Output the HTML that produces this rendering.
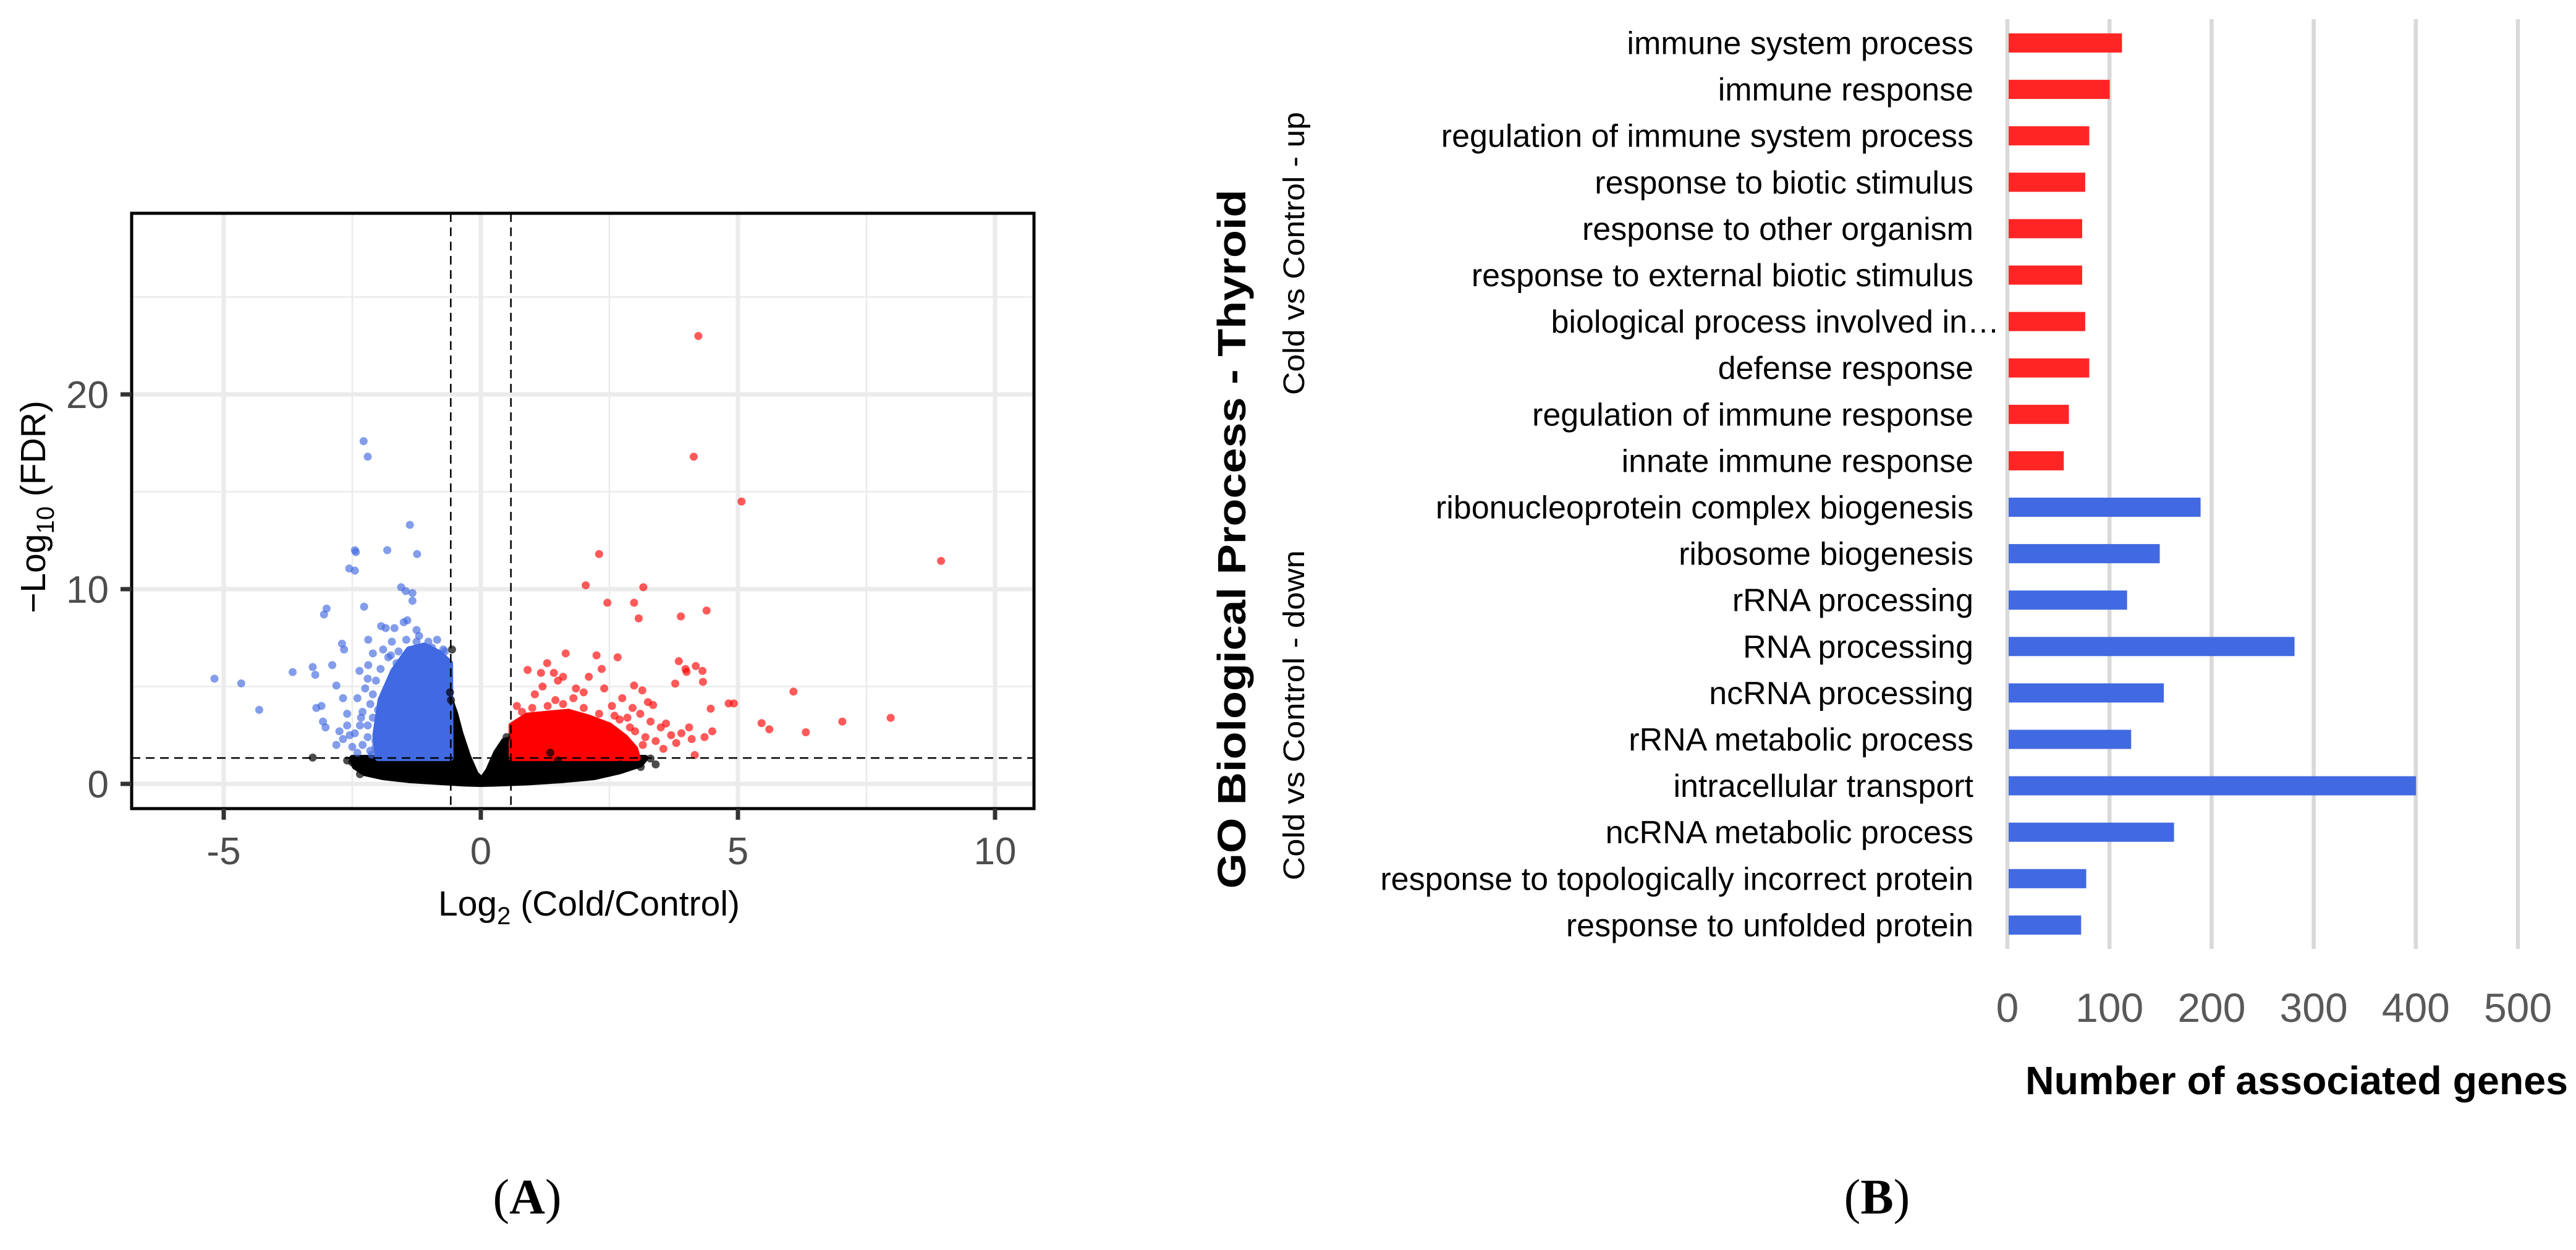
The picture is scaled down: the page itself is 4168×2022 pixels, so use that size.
<!DOCTYPE html>
<html><head><meta charset="utf-8">
<style>
html,body{margin:0;padding:0;background:#fff;}
svg{display:block;}
</style></head>
<body>
<svg id="fig" width="4168" height="2022" viewBox="0 0 4168 2022" xmlns="http://www.w3.org/2000/svg">
  <rect x="0" y="0" width="4168" height="2022" fill="#fff"/>
  <g id="panelA"></g>
  <g id="panelB"></g>
  <text x="853" y="1963" text-anchor="middle" font-family="'Liberation Serif', serif" font-size="80">(<tspan font-weight="bold">A</tspan>)</text>
  <text x="3037" y="1963" text-anchor="middle" font-family="'Liberation Serif', serif" font-size="80">(<tspan font-weight="bold">B</tspan>)</text>
</svg>
<script>
// ---------- Panel A data ----------
const aXTicks = [-5, 0, 5, 10];
const aXMinor = [-2.5, 2.5, 7.5];
const aYTicks = [0, 10, 20];
const aYMinor = [5, 15, 25];
const fcThreshold = 0.585;
const fdrThreshold = 1.33;
const bluePoints = [
 [-5.18,5.4],[-4.66,5.16],[-4.31,3.8],[-3.66,5.74],[-3.27,6.0],[-3.22,5.6],[-3.2,3.9],[-3.1,4.0],
 [-3.05,8.7],[-3.0,9.0],[-3.07,3.2],[-3.02,2.9],[-2.89,6.1],[-2.7,7.2],[-2.66,6.9],[-2.56,11.06],
 [-2.45,10.95],[-2.45,12.0],[-2.43,11.9],[-2.28,17.6],[-2.2,16.8],[-2.27,9.1],[-1.82,12.0],[-1.38,13.3],
 [-1.24,11.8],[-1.55,10.1],[-1.46,9.9],[-1.33,9.8],[-1.33,9.4],[-2.19,7.4],[-1.94,8.1],[-1.85,8.0],
 [-1.68,8.0],[-1.5,8.3],[-1.43,8.4],[-1.25,7.9],[-2.36,5.8],[-2.19,6.1],[-2.04,5.3],[-2.81,5.05],
 [-2.68,4.4],[-2.6,3.6],[-2.55,2.5],[-2.68,2.3],[-2.81,2.0],[-2.4,4.4],[-2.33,3.4],[-2.45,2.6],
 [-2.2,3.0],[-2.5,1.9],[-1.8,6.5],[-1.64,6.2],[-1.73,7.3],[-1.45,7.4],[-1.25,7.3],[-1.02,7.3],
 [-0.85,7.4],[-0.66,6.2],[-0.73,6.9],[-2.3,2.0],[-2.15,1.7],[-2.05,2.2],[-2.25,4.9],[-2.1,4.6],
 [-1.95,5.9],[-1.6,6.8],[-2.35,3.0],[-2.0,3.8],[-2.12,1.5],[-1.9,1.6],[-2.6,3.0],[-2.75,2.7],
 [-2.1,6.7],[-1.9,6.9],[-1.75,6.6],[-2.2,5.4],[-2.15,4.1],[-2.3,3.7],[-2.2,2.4],[-2.05,1.9],
 [-1.2,7.6],[-0.95,7.0],[-0.7,6.8],[-2.4,1.6],[-2.0,2.8],[-2.1,3.4]
];
const redPoints = [
 [4.23,23.0],[4.14,16.8],[5.07,14.5],[8.95,11.45],[2.3,11.8],[2.04,10.2],[3.16,10.1],[2.46,9.3],
 [2.98,9.3],[3.07,8.5],[3.89,8.6],[4.39,8.9],[1.65,6.7],[2.25,6.6],[2.66,6.5],[3.85,6.3],[3.98,5.9],
 [4.18,6.05],[4.31,5.8],[4.0,5.75],[3.78,5.15],[4.32,5.24],[2.98,5.05],[3.14,4.8],[6.08,4.74],
 [4.82,4.13],[4.92,4.13],[4.47,3.86],[5.46,3.12],[5.61,2.8],[6.32,2.65],[7.03,3.2],[7.97,3.39],
 [3.6,3.1],[3.9,2.6],[4.05,2.9],[4.1,2.3],[4.5,2.7],[4.35,2.4],[4.16,1.48],[3.7,2.5],[3.8,2.1],
 [0.91,5.85],[1.17,5.7],[1.29,6.2],[1.42,5.7],[1.5,5.3],[1.6,5.5],[1.2,5.0],[1.45,4.3],[1.85,4.9],
 [2.1,5.5],[2.35,5.9],[2.4,4.9],[2.0,4.7],[1.8,4.4],[3.25,4.2],[3.35,4.05],[2.75,4.4],[2.95,3.9],
 [2.55,4.0],[2.3,3.6],[2.85,3.4],[3.1,3.6],[3.3,3.2],[3.5,2.9],[2.7,3.3],[0.7,4.0],[1.05,4.6],
 [3.0,2.7],[3.2,2.4],[3.4,2.2],[3.55,1.8],[2.9,1.6],[1.0,3.9],[1.3,4.0],[1.6,4.1],[2.0,3.9],
 [2.6,3.5],[2.9,2.9],[3.15,2.0],[0.8,3.7]
];
const blackPoints = [
 [-3.27,1.35],[3.11,0.87],[-0.56,6.9],[-0.6,4.7],[-0.58,4.3],[-2.3,1.0],[-2.1,0.7],[-2.5,1.1],
 [1.35,1.6],[1.5,1.2],[2.7,1.0],[3.3,1.3],[3.4,1.0],[-2.6,1.2],[-2.35,0.5],[0.5,2.4]
];
const blueCore = [[-2.0,1.33],[-2.05,2.5],[-1.95,4.3],[-1.7,5.8],[-1.4,6.9],[-1.1,7.1],[-0.8,6.7],[-0.6,6.2],[-0.59,1.33]];
const redCore = [[0.6,1.33],[0.6,3.0],[0.9,3.5],[1.3,3.6],[1.7,3.7],[2.1,3.4],[2.5,3.0],[2.8,2.4],[3.0,1.8],[3.05,1.33]];
const blackCore = [[-2.5,1.33],[-2.45,0.9],[-2.25,0.55],[-1.9,0.35],[-1.4,0.2],[-0.8,0.1],[-0.3,0.02],[0,0],
 [0.3,0.02],[0.9,0.08],[1.6,0.2],[2.2,0.35],[2.7,0.65],[3.1,1.0],[3.2,1.33],[0.6,1.33],[0.6,2.3],[0.45,2.2],
 [0.3,1.6],[0.15,0.7],[0.02,0.2],[-0.1,0.5],[-0.25,1.4],[-0.4,2.6],[-0.5,3.6],[-0.58,4.2],[-0.58,1.33]];

// ---------- Panel B data ----------
const goTerms = ["immune system process","immune response","regulation of immune system process","response to biotic stimulus",
 "response to other organism","response to external biotic stimulus","biological process involved in\u2026","defense response",
 "regulation of immune response","innate immune response","ribonucleoprotein complex biogenesis","ribosome biogenesis",
 "rRNA processing","RNA processing","ncRNA processing","rRNA metabolic process","intracellular transport",
 "ncRNA metabolic process","response to topologically incorrect protein","response to unfolded protein"];
const geneCounts = [111,99,79,75,72,72,75,79,59,54,188,148,116,280,152,120,399,162,76,71];
const direction = ["up","up","up","up","up","up","up","up","up","up","down","down","down","down","down","down","down","down","down","down"];
const bTicks = [0,100,200,300,400,500];

const NS = "http://www.w3.org/2000/svg";
function mk(parent, tag, attrs, text){
  const e = document.createElementNS(NS, tag);
  for (const k in attrs) e.setAttribute(k, attrs[k]);
  if (text !== undefined) e.textContent = text;
  parent.appendChild(e);
  return e;
}

// ---------- Panel A ----------
(function(){
  const g = document.getElementById('panelA');
  const L=213, R=1673, T=345, B=1308;
  const sx = v => 778 + v*83.2;
  const sy = v => 1268 - v*31.5;
  const SANS = "'Liberation Sans', sans-serif";
  const PR = 6.5;
  let e;
  aXMinor.forEach(v=>{ e=mk(g,'line',{x1:sx(v),x2:sx(v),y1:T,y2:B,stroke:'#ebebeb','stroke-width':2.5});
      });
  aYMinor.forEach(v=>{ e=mk(g,'line',{x1:L,x2:R,y1:sy(v),y2:sy(v),stroke:'#ebebeb','stroke-width':2.5});
      });
  aXTicks.forEach(v=>{ e=mk(g,'line',{x1:sx(v),x2:sx(v),y1:T,y2:B,stroke:'#ebebeb','stroke-width':7});
      });
  aYTicks.forEach(v=>{ e=mk(g,'line',{x1:L,x2:R,y1:sy(v),y2:sy(v),stroke:'#ebebeb','stroke-width':7});
      });

  function poly(pts, fill, name){
    const p = mk(g,'polygon',{points:pts.map(q=>sx(q[0])+','+sy(q[1])).join(' '),fill:fill,stroke:fill,'stroke-width':10,'stroke-linejoin':'round'});
    
    
  }
  poly(blackCore,'#000','nonsignificant-cloud');
  poly(blueCore,'#4169e1','down-regulated-cloud');
  poly(redCore,'#ff0000','up-regulated-cloud');

  blackPoints.forEach(p=>{ e=mk(g,'circle',{cx:sx(p[0]),cy:sy(p[1]),r:PR,fill:'#000','fill-opacity':0.7});
      });
  bluePoints.forEach(p=>{ e=mk(g,'circle',{cx:sx(p[0]),cy:sy(p[1]),r:PR,fill:'#4169e1','fill-opacity':0.65});
      });
  redPoints.forEach(p=>{ e=mk(g,'circle',{cx:sx(p[0]),cy:sy(p[1]),r:PR,fill:'#ff0000','fill-opacity':0.65});
      });

  [-fcThreshold, fcThreshold].forEach(v=>{ e=mk(g,'line',{x1:sx(v),x2:sx(v),y1:T,y2:B,stroke:'#000','stroke-width':2.5,'stroke-dasharray':'14 9'});
      });
  e=mk(g,'line',{x1:L,x2:R,y1:sy(fdrThreshold),y2:sy(fdrThreshold),stroke:'#000','stroke-width':2.5,'stroke-dasharray':'14 9'});
   

  e=mk(g,'rect',{x:L,y:T,width:R-L,height:B-T,fill:'none',stroke:'#000','stroke-width':5});
   

  aXTicks.forEach(v=>{
    e=mk(g,'line',{x1:sx(v),x2:sx(v),y1:B,y2:B+18,stroke:'#333','stroke-width':7});
     
    e=mk(g,'text',{x:sx(v),y:1398,'text-anchor':'middle','font-family':SANS,'font-size':62,fill:'#4d4d4d'}, String(v));
     
  });
  aYTicks.forEach(v=>{
    e=mk(g,'line',{x1:L-18,x2:L,y1:sy(v),y2:sy(v),stroke:'#333','stroke-width':7});
     
    e=mk(g,'text',{x:176,y:sy(v)+22,'text-anchor':'end','font-family':SANS,'font-size':62,fill:'#4d4d4d'}, String(v));
     
  });
  e=mk(g,'text',{x:953,y:1481,'text-anchor':'middle','font-family':SANS,'font-size':57,fill:'#000'});
   
  e.innerHTML = 'Log<tspan font-size="40" dy="14">2</tspan><tspan dy="-14"> (Cold/Control)</tspan>';
  e=mk(g,'text',{x:0,y:0,'text-anchor':'middle','font-family':SANS,'font-size':57,fill:'#000',transform:'translate(73,820) rotate(-90)'});
   
  e.innerHTML = '\u2212Log<tspan font-size="40" dy="14">10</tspan><tspan dy="-14"> (FDR)</tspan>';
})();

// ---------- Panel B ----------
(function(){
  const g = document.getElementById('panelB');
  const x0 = 3248, per = 1.652;
  const sx = v => x0 + v*per;
  const sy = i => 69.5 + i*75.1;
  const SANS = "'Liberation Sans', sans-serif";
  let e;
  bTicks.forEach(v=>{
    e=mk(g,'line',{x1:sx(v),x2:sx(v),y1:31,y2:1535,stroke:'#d9d9d9','stroke-width':6.5});
     
    e=mk(g,'text',{x:sx(v),y:1653,'text-anchor':'middle','font-family':SANS,'font-size':66,fill:'#595959'}, String(v));
     
  });
  goTerms.forEach((t,i)=>{
    e=mk(g,'rect',{x:x0+2,y:sy(i)-15.5,width:geneCounts[i]*per,height:31,fill:direction[i]==='up'?'#ff2525':'#4169e1'});
     
    const xr = t.indexOf('\u2026')>=0 ? 3235 : 3193;
    e=mk(g,'text',{x:xr,y:sy(i)+18,'text-anchor':'end','font-family':SANS,'font-size':52,fill:'#000'}, t);
     
  });
  e=mk(g,'text',{x:3716,y:1770,'text-anchor':'middle','font-family':SANS,'font-size':64,'font-weight':'bold',fill:'#000',textLength:878,lengthAdjust:'spacingAndGlyphs'},'Number of associated genes');
   
  e=mk(g,'text',{x:0,y:0,'text-anchor':'middle','font-family':SANS,'font-size':64,'font-weight':'bold',fill:'#000',textLength:1131,lengthAdjust:'spacingAndGlyphs',transform:'translate(2015,872) rotate(-90)'},'GO Biological Process - Thyroid');
   
  e=mk(g,'text',{x:0,y:0,'text-anchor':'middle','font-family':SANS,'font-size':48,fill:'#000',textLength:458,lengthAdjust:'spacingAndGlyphs',transform:'translate(2110,410) rotate(-90)'},'Cold vs Control - up');
   
  e=mk(g,'text',{x:0,y:0,'text-anchor':'middle','font-family':SANS,'font-size':48,fill:'#000',textLength:534,lengthAdjust:'spacingAndGlyphs',transform:'translate(2110,1157) rotate(-90)'},'Cold vs Control - down');
   
})();
</script>
</body></html>
